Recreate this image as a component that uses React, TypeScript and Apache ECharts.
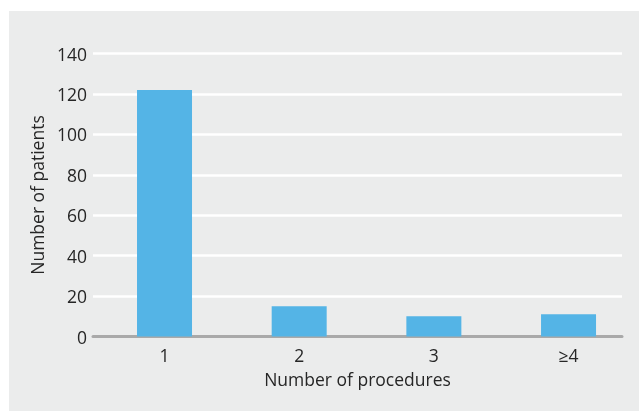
import React, { useEffect, useRef } from "react";
import * as echarts from "echarts";

const categories = ["1", "2", "3", "≥4"];
const patients = [122, 15, 10, 11];
const yTicks = [0, 20, 40, 60, 80, 100, 120, 140];

export default function App() {
  const ref = useRef<HTMLDivElement>(null);
  useEffect(() => {
    if (!ref.current) return;
    const chart = echarts.init(ref.current, null, { renderer: "svg" });
    const font = "'Open Sans', 'Noto Sans', sans-serif";
    const textColor = "#262626";
    const positions = categories.map((_, i) => i + 1);
    chart.setOption({
      animation: false,
      textStyle: { fontFamily: font },
      graphic: [
        {
          type: "rect",
          z: -10,
          shape: { x: 9, y: 11, width: 630, height: 400 },
          style: { fill: "#ebecec" },
          silent: true,
        },
      ],
      grid: { left: 93, right: 17, top: 53.5, bottom: 74.5 },
      xAxis: {
        type: "value",
        min: 0.469,
        max: 4.397,
        axisLine: { show: true, lineStyle: { color: "#a9a9a9", width: 3 } },
        axisTick: { show: false },
        splitLine: { show: false },
        axisLabel: {
          customValues: positions,
          formatter: (v: number) => categories[Math.round(v) - 1] ?? "",
          fontSize: 17.5,
          color: textColor,
          margin: 9,
          fontFamily: font,
        },
        name: "Number of procedures",
        nameLocation: "middle",
        nameGap: 33,
        nameTextStyle: { fontSize: 17.5, color: textColor, fontFamily: font },
      },
      yAxis: {
        type: "value",
        min: yTicks[0],
        max: yTicks[yTicks.length - 1],
        interval: 20,
        axisLine: { show: false },
        axisTick: { show: false },
        axisLabel: { fontSize: 17.5, color: textColor, margin: 6, fontFamily: font },
        splitLine: { show: true, lineStyle: { color: "#ffffff", width: 2.5 } },
        name: "Number of patients",
        nameLocation: "middle",
        nameGap: 35,
        nameTextStyle: { fontSize: 17.5, color: textColor, fontFamily: font },
      },
      series: [
        {
          type: "bar",
          data: patients.map((v, i) => [positions[i], v]),
          barWidth: 55,
          itemStyle: { color: "#54b4e6" },
        },
      ],
    });
    return () => chart.dispose();
  }, []);
  return (
    <div
      ref={ref}
      style={{ position: "fixed", left: 0, top: 0, width: 639, height: 411 }}
    />
  );
}
